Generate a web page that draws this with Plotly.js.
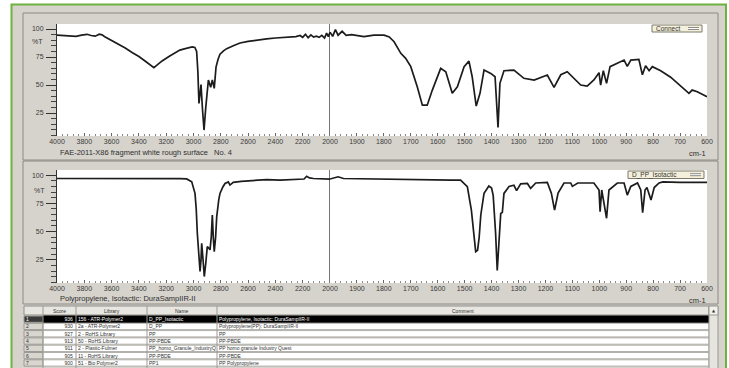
<!DOCTYPE html>
<html>
<head>
<meta charset="utf-8">
<script src="https://cdn.plot.ly/plotly-3.0.1.min.js"></script>
<style>
  html, body { margin: 0; padding: 0; background: #ffffff; }
  #chart { width: 729px; height: 368px; }
</style>
</head>
<body>
<div id="chart"></div>
<script>
// ---- Sample spectrum (wavenumber, %T) ----
const connectWn = [4000, 3950, 3900, 3860, 3820, 3780, 3750, 3720, 3690, 3670, 3650, 3600, 3550, 3500, 3450, 3400, 3350, 3310, 3290, 3270, 3230, 3180, 3140, 3100, 3060, 3030, 3010, 2990, 2977, 2968, 2960, 2952, 2945, 2935, 2923, 2910, 2891, 2874, 2862, 2848, 2835, 2820, 2806, 2780, 2757, 2700, 2659, 2600, 2550, 2464, 2400, 2350, 2293, 2250, 2220, 2200, 2180, 2160, 2140, 2120, 2100, 2080, 2060, 2040, 2025, 2012, 2000, 1990, 1980, 1970, 1955, 1940, 1920, 1900, 1874, 1837, 1799, 1780, 1762, 1737, 1719, 1700, 1676, 1657, 1639, 1620, 1600, 1589, 1570, 1546, 1527, 1502, 1484, 1472, 1457, 1443, 1428, 1403, 1387, 1376, 1369, 1354, 1317, 1280, 1242, 1193, 1168, 1143, 1119, 1069, 1045, 1020, 1001, 995, 985, 973, 960, 933, 908, 896, 883, 853, 840, 828, 815, 803, 772, 735, 686, 667, 655, 636, 600];
const connectT = [94.6, 94.3, 94.0, 93.5, 94.5, 95.3, 94.2, 93.6, 95.4, 94.8, 93.2, 90.0, 86.5, 83.0, 79.0, 75.5, 71.0, 67.5, 65.5, 67.5, 71.5, 75.5, 78.5, 81.2, 82.5, 83.5, 84.0, 83.5, 80.0, 62, 33.6, 42, 50.5, 30, 9.8, 30, 54.5, 48, 54.5, 47, 66, 73, 77.5, 80.5, 82.5, 85.5, 87.5, 89, 90, 91.2, 92, 92.5, 93, 93.2, 94.2, 92.6, 95.3, 92.2, 94.8, 92.8, 93.6, 92.6, 94.4, 92, 96.4, 93.2, 97.2, 93.5, 99.5, 94.5, 98, 94.4, 95, 94, 93.2, 94.6, 94.6, 93, 88.7, 78.3, 73.8, 66.4, 48.5, 32, 32, 45.5, 58, 64.9, 61.9, 42.6, 48.5, 66.4, 71.4, 57.4, 31.2, 42.6, 63.4, 60.4, 57.4, 12.2, 51.5, 62.8, 63.4, 56, 54.5, 58.9, 47.9, 59.2, 61.9, 50, 49.1, 54.5, 61, 50, 62.8, 51.5, 66.4, 69.4, 72.3, 66.7, 72.3, 72.9, 59.2, 67.3, 62.8, 66.4, 62.8, 57, 47, 42.6, 45.5, 44, 39.6];

// ---- Library reference spectrum (wavenumber, %T) ----
const refWn = [4000, 3900, 3800, 3700, 3600, 3500, 3400, 3300, 3200, 3100, 3050, 3013, 2989, 2980, 2972, 2960, 2952, 2945, 2940, 2930, 2921, 2910, 2899, 2885, 2879, 2870, 2862, 2855, 2848, 2838, 2830, 2815, 2806, 2785, 2769, 2745, 2733, 2720, 2709, 2650, 2562, 2464, 2366, 2300, 2220, 2190, 2171, 2150, 2122, 2050, 2012, 2000, 1970, 1950, 1900, 1874, 1800, 1700, 1600, 1550, 1515, 1490, 1475, 1465, 1459, 1452, 1446, 1440, 1428, 1410, 1400, 1394, 1385, 1379, 1373, 1366, 1360, 1354, 1335, 1317, 1307, 1292, 1267, 1255, 1236, 1193, 1178, 1166, 1153, 1131, 1106, 1100, 1080, 1020, 1001, 997, 991, 983, 973, 964, 933, 908, 896, 883, 858, 846, 839, 830, 823, 808, 796, 778, 764, 702, 640, 605, 600];
const refT = [97, 97, 97.3, 96.8, 97.2, 96.9, 97, 96.8, 97, 96.8, 96.6, 94, 83.8, 70, 48.5, 25, 14.7, 25, 39.7, 25, 10.2, 22, 36.7, 35, 33.8, 45, 64.7, 45, 32.3, 45, 63, 78, 83.8, 89.5, 92.6, 94, 91.2, 92.5, 93.5, 94.5, 95.5, 96, 95.5, 95.8, 96, 96.5, 99, 97.5, 97, 96.8, 97, 96.5, 98.5, 97, 96.8, 96.5, 96, 96.2, 95.8, 95.6, 95.6, 89.7, 69, 45, 32.3, 33.5, 45, 64.7, 83.8, 90.3, 88.5, 82, 48.5, 15.5, 45, 66, 67, 83.8, 89.9, 91, 86.2, 92.3, 92.6, 88.2, 93, 93.5, 84, 69, 84, 93, 93, 90, 93, 93, 86.8, 67.6, 86.8, 75, 61.8, 86.8, 93, 93, 82.3, 90, 93, 86.8, 66.7, 86.8, 89, 78, 89, 93, 94, 93.5, 93.5, 94, 93.5];

// ---- Axis ticks ----
const leftTicks = [4000, 3800, 3600, 3400, 3200, 3000, 2800, 2600, 2400, 2200, 2000];
const rightTicks = [1900, 1800, 1700, 1600, 1500, 1400, 1300, 1200, 1100, 1000, 900, 800, 700, 600];
const yTicks = [25, 50, 75, 100];

// ---- Search result table ----
const tableHeader = ['', 'Score', 'Library', 'Name', 'Comment'];
const rowNo = ['1', '2', '3', '4', '5', '6', '7'];
const scores = ['936', '930', '927', '913', '911', '905', '900'];
const libraries = ['156 - ATR-Polymer2', '2a - ATR-Polymer2', '2 - RoHS Library', '50 - RoHS Library', '2 - Plastic-Fulmer', '11 - RoHS Library', '51 - Bio Polymer2'];
const names = ['D_PP_Isotactic', 'D_PP', 'PP', 'PP-PBDE', 'PP_homo_Granule_IndustryQuest', 'PP-PBDE', 'PP1'];
const comments = ['Polypropylene, Isotactic: DuraSampIIR-II', 'Polypropylene(PP): DuraSampIIR-II', 'PP', 'PP-PBDE', 'PP homo granule Industry Quest', 'PP-PBDE', 'PP Polypropylene'];

// ---- helpers ----
const W = 729, H = 368;
const fx = px => px / W;
const fy = py => 1 - py / H;
const FONT = 'Liberation Sans, Arial, sans-serif';

function split(wn, t, hi) {
  const xs = [], ys = [];
  wn.forEach((w, i) => {
    if (hi ? w >= 2000 : w <= 2000) { xs.push(w); ys.push(t[i]); }
  });
  return { x: xs, y: ys };
}

const lineStyle = { color: '#1c1c1c', width: 1.7 };
function spec(part, xa, ya) {
  return { type: 'scatter', mode: 'lines', x: part.x, y: part.y, xaxis: xa, yaxis: ya,
           line: lineStyle, hoverinfo: 'skip', showlegend: false };
}

const traces = [
  spec(split(connectWn, connectT, true), 'x', 'y'),
  spec(split(connectWn, connectT, false), 'x2', 'y'),
  spec(split(refWn, refT, true), 'x3', 'y2'),
  spec(split(refWn, refT, false), 'x4', 'y2')
];

const tickFont = { family: FONT, size: 7, color: '#3a3a3a' };

function xAxis(domain, range, tickvals, minorDtick, anchor) {
  return {
    domain: domain, range: range, anchor: anchor,
    tickmode: 'array', tickvals: tickvals, ticktext: tickvals.map(String),
    ticks: 'inside', ticklen: 3, tickcolor: '#666666', tickwidth: 1,
    minor: { tickmode: 'linear', tick0: 0, dtick: minorDtick, ticks: 'inside', ticklen: 2, tickcolor: '#8a8a8a' },
    showline: false, showgrid: false, zeroline: false,
    tickfont: tickFont, ticklabelstandoff: 0, fixedrange: true
  };
}
function yAxis(domain, anchor) {
  return {
    domain: domain, range: [4.5, 104.5], anchor: anchor,
    tickmode: 'array', tickvals: yTicks, ticktext: yTicks.map(String),
    ticks: 'outside', ticklen: 10, tickcolor: '#333333', tickwidth: 1,
    minor: { tickmode: 'linear', tick0: 0, dtick: 5, ticks: 'outside', ticklen: 5, tickcolor: '#444444' },
    showline: true, linecolor: '#333333', linewidth: 1,
    showgrid: false, zeroline: false, tickfont: tickFont, ticklabelstandoff: 1, fixedrange: true
  };
}

const leftDom = [fx(57), fx(330)];
const rightDom = [fx(330), fx(707)];
const topDom = [fy(136), fy(24)];
const botDom = [fy(283), fy(170)];

const textFont = { family: FONT, size: 7.5, color: '#2e2e2e' };
const smallFont = { family: FONT, size: 6.5, color: '#333333' };

const rectPx = (x0, x1, y0, y1, fill, line, extra) => Object.assign({
  type: 'rect', xref: 'paper', yref: 'paper', x0: fx(x0), x1: fx(x1), y0: fy(y1), y1: fy(y0),
  fillcolor: fill, line: line
}, extra || {});
const linePx = (x0, y0, x1, y1, color, width) => ({
  type: 'line', xref: 'paper', yref: 'paper', x0: fx(x0), x1: fx(x1), y0: fy(y0), y1: fy(y1),
  line: { color: color, width: width }
});

const shapes = [
  // white surround and green frame
  rectPx(-2, 11, -2, 372, '#ffffff', { width: 0 }, { layer: 'below' }),
  rectPx(-2, 731, -2, 4, '#ffffff', { width: 0 }, { layer: 'below' }),
  rectPx(727, 731, -2, 372, '#ffffff', { width: 0 }, { layer: 'below' }),
  rectPx(11.5, 726, 4.5, 372, 'rgba(0,0,0,0)', { color: '#6fb13e', width: 2 }),
  // panel frames
  rectPx(23, 718, 13, 160, 'rgba(0,0,0,0)', { color: '#8c8a85', width: 1 }, { layer: 'below' }),
  rectPx(23, 718, 161, 304, 'rgba(0,0,0,0)', { color: '#8c8a85', width: 1 }, { layer: 'below' }),
  // range split markers at 2000 cm-1
  { type: 'line', xref: 'x', yref: 'y domain', x0: 2000, x1: 2000, y0: 0, y1: 1, line: { color: '#1a1a1a', width: 1.2 } },
  { type: 'line', xref: 'x3', yref: 'y2 domain', x0: 2000, x1: 2000, y0: 0, y1: 1, line: { color: '#1a1a1a', width: 1.2 } },
  // legend boxes with line samples
  rectPx(652, 702, 25, 32, '#f4f0dc', { color: '#7d7a6a', width: 1 }),
  linePx(688, 28.5, 699, 28.5, '#8a8a8a', 3),
  linePx(688, 28.5, 699, 28.5, '#ffffff', 1),
  rectPx(628, 704, 171, 178.5, '#f4f0dc', { color: '#7d7a6a', width: 1 }),
  linePx(690, 174.7, 701, 174.7, '#8a8a8a', 3),
  linePx(690, 174.7, 701, 174.7, '#ffffff', 1)
];

const annotations = [
  { xref: 'paper', yref: 'paper', x: fx(37), y: fy(42), text: '%T', showarrow: false, xanchor: 'center', yanchor: 'middle', font: tickFont },
  { xref: 'paper', yref: 'paper', x: fx(39), y: fy(190), text: '%T', showarrow: false, xanchor: 'center', yanchor: 'middle', font: tickFont },
  { xref: 'paper', yref: 'paper', x: fx(58), y: fy(152), text: 'FAE-2011-X86 fragment white rough surface&nbsp;&nbsp;&nbsp;No. 4', showarrow: false, xanchor: 'left', yanchor: 'middle', font: textFont },
  { xref: 'paper', yref: 'paper', x: fx(708), y: fy(153), text: 'cm-1', showarrow: false, xanchor: 'right', yanchor: 'middle', font: textFont },
  { xref: 'paper', yref: 'paper', x: fx(58), y: fy(298), text: 'Polypropylene, Isotactic: DuraSampIIR-II', showarrow: false, xanchor: 'left', yanchor: 'middle', font: textFont },
  { xref: 'paper', yref: 'paper', x: fx(708), y: fy(300), text: 'cm-1', showarrow: false, xanchor: 'right', yanchor: 'middle', font: textFont },
  { xref: 'paper', yref: 'paper', x: fx(654), y: fy(28.6), text: 'Connect', showarrow: false, xanchor: 'left', yanchor: 'middle', font: smallFont },
  { xref: 'paper', yref: 'paper', x: fx(630), y: fy(174.8), text: 'D_PP_Isotactic', showarrow: false, xanchor: 'left', yanchor: 'middle', font: smallFont }
];

// ---- result table drawn as cells ----
const colEdges = [24, 43, 76, 147, 217, 709];
const headTop = 306, headBot = 315, rowTop = 316, rowH = 7.3;
const cellFont = (c) => ({ family: FONT, size: 5, color: c });
shapes.push(rectPx(colEdges[0], colEdges[5], headTop, headBot, '#e8e6e0', { color: '#8f8d88', width: 1 }));
tableHeader.forEach((h, c) => {
  if (!h) return;
  annotations.push({ xref: 'paper', yref: 'paper', x: fx((colEdges[c] + colEdges[c + 1]) / 2), y: fy((headTop + headBot) / 2),
    text: h, showarrow: false, xanchor: 'center', yanchor: 'middle', font: cellFont('#333333') });
});
const columns = [rowNo, scores, libraries, names, comments];
rowNo.forEach((_, r) => {
  const y0 = rowTop + r * rowH, y1 = y0 + rowH - 1;
  const sel = r === 0;
  shapes.push(rectPx(colEdges[0], colEdges[1], y0, y1, sel ? '#3a3a3a' : '#d9d6cf', { color: '#9d9b96', width: 1 }));
  shapes.push(rectPx(colEdges[1], colEdges[5], y0, y1, sel ? '#000000' : '#ffffff', { color: sel ? '#000000' : '#b3b1ac', width: 1 }));
  columns.forEach((col, c) => {
    const right = c === 1;
    const cellW = colEdges[c + 1] - colEdges[c] - 3;
    annotations.push({ xref: 'paper', yref: 'paper',
      x: fx(right ? colEdges[c + 1] - 2 : colEdges[c] + 1), y: fy((y0 + y1) / 2),
      text: col[r], showarrow: false, xanchor: right ? 'right' : 'left', yanchor: 'middle',
      width: cellW, align: right ? 'right' : 'left', borderpad: 0,
      font: cellFont(sel ? '#ffffff' : '#303030') });
  });
});
for (let c = 1; c < colEdges.length - 1; c++) {
  shapes.push(linePx(colEdges[c], headTop, colEdges[c], 372, '#9d9b96', 1));
}
// scrollbar
shapes.push(rectPx(709, 718, 306, 372, '#e6e4de', { color: '#9a9893', width: 1 }));
shapes.push(rectPx(709, 718, 306, 315, '#f2f1ec', { color: '#9a9893', width: 1 }));
annotations.push({ xref: 'paper', yref: 'paper', x: fx(713.5), y: fy(310.5), text: '▲', showarrow: false,
  xanchor: 'center', yanchor: 'middle', font: { family: 'DejaVu Sans', size: 4, color: '#333333' } });

const layout = {
  width: W, height: H,
  margin: { l: 0, r: 0, t: 0, b: 0, pad: 0 },
  paper_bgcolor: '#d6d3cc',
  plot_bgcolor: '#ffffff',
  showlegend: false,
  xaxis: xAxis(leftDom, [4000, 2000], leftTicks, 40, 'y'),
  xaxis2: xAxis(rightDom, [2000, 600], rightTicks, 20, 'y'),
  xaxis3: xAxis(leftDom, [4000, 2000], leftTicks, 40, 'y2'),
  xaxis4: xAxis(rightDom, [2000, 600], rightTicks, 20, 'y2'),
  yaxis: yAxis(topDom, 'x'),
  yaxis2: yAxis(botDom, 'x3'),
  shapes: shapes,
  annotations: annotations
};

Plotly.newPlot('chart', traces, layout, { staticPlot: true, displayModeBar: false });
</script>
</body>
</html>
